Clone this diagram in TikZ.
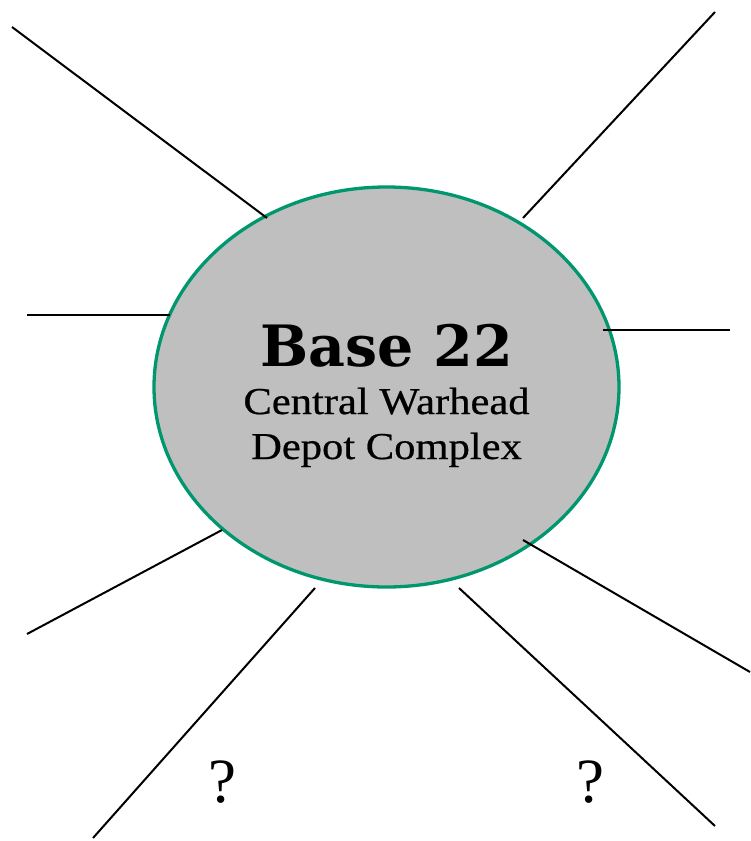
\documentclass[tikz,border=0pt]{standalone}
\usepackage{fontspec}
\setmainfont{Liberation Serif}
\newfontfamily\headfont{DejaVu Serif}
\newfontfamily\subfont[FakeStretch=1.12, FakeBold=0.6]{Liberation Serif}
\usetikzlibrary{shapes.geometric}

\definecolor{hubgray}{HTML}{BFBFBF}
\definecolor{hubgreen}{HTML}{00966E}

\tikzset{
  hub/.style={ellipse, draw=hubgreen, line width=3.3pt, fill=hubgray,
    minimum width=465pt, minimum height=400pt, inner sep=0pt},
  spoke/.style={line width=2pt},
  sub/.style={anchor=base, font=\subfont\fontsize{38}{42}\selectfont},
  qmark/.style={anchor=base, font=\fontsize{63}{66}\selectfont}
}

\begin{document}
\begin{tikzpicture}[x=1pt, y=-1pt]
        \useasboundingbox (0,0) rectangle (750,841);
        \node[hub] (base) at (386.5,387) {};
        \node[anchor=base, font=\headfont\bfseries\fontsize{57}{60}\selectfont] (title) at (386.5,366) {Base 22};
        \node[sub] (line1) at (386.5,414) {Central Warhead};
        \node[sub] (line2) at (386.5,459) {Depot Complex};

        % free ends of the spokes
        \coordinate (ulA) at (267,218);  \coordinate (ulB) at (12,27);
        \coordinate (urA) at (523,218);  \coordinate (urB) at (715,12);
        \coordinate (lA)  at (170,315);  \coordinate (lB)  at (27,315);
        \coordinate (rA)  at (603,330);  \coordinate (rB)  at (730,330);
        \coordinate (llA) at (222,530);  \coordinate (llB) at (27,634);
        \coordinate (lrA) at (523,540);  \coordinate (lrB) at (750,672);
        \coordinate (blA) at (315,588);  \coordinate (blB) at (93,838);
        \coordinate (brA) at (459,588);  \coordinate (brB) at (715,826);

        \draw[spoke] (ulA) -- (ulB);
        \draw[spoke] (urA) -- (urB);
        \draw[spoke] (lA) -- (lB);
        \draw[spoke] (rA) -- (rB);
        \draw[spoke] (llA) -- (llB);
        \draw[spoke] (lrA) -- (lrB);
        \draw[spoke] (blA) -- (blB);
        \draw[spoke] (brA) -- (brB);

        \node[qmark] (q1) at (222,802) {?};
        \node[qmark] (q2) at (590,802) {?};
    \end{tikzpicture}
\end{document}
